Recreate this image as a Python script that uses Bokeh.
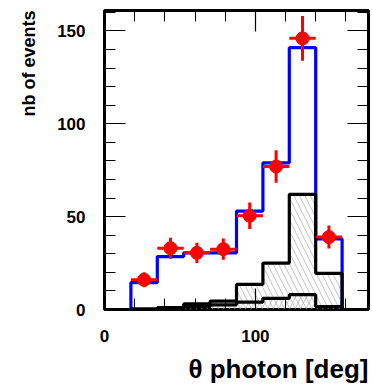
import numpy as np
from bokeh.plotting import figure
from bokeh.models import Range1d, LinearAxis, SingleIntervalTicker, CustomJSTickFormatter, Title
from bokeh.embed import file_html
from bokeh.resources import INLINE

# ---- data ----
bin_edges = [0, 17.5, 35, 52.5, 70, 87.5, 105, 122.5, 140, 157.5, 175]
mc_total = [0, 14.5, 28.5, 30.5, 30.5, 53, 79, 141, 38, 0]
bkg_main = [0, 0.3, 1, 3, 4.5, 13.5, 25, 62, 19.5, 0]
bkg_small = [0, 0, 0.5, 1.5, 2.5, 4, 6, 8, 1.5, 0]
data_counts = [0, 16, 33, 30.5, 32.5, 50.5, 77, 146, 39, 0]
data_errors = [0, 4.0, 5.7, 5.5, 5.7, 7.1, 8.8, 12.1, 6.2, 0]

x_ticks_interval = 100
y_ticks_interval = 50
x_title = "θ photon [deg]"
y_title = "nb of events"

FONT = "Liberation Sans"


def step_path(edges, vals):
    nz = [i for i, v in enumerate(vals) if v > 0]
    i0, i1 = nz[0], nz[-1]
    xs, ys = [edges[i0]], [0]
    for i in range(i0, i1 + 1):
        xs += [edges[i], edges[i + 1]]
        ys += [vals[i], vals[i]]
    xs.append(edges[i1 + 1])
    ys.append(0)
    return xs, ys


p = figure(width=372, height=390, x_range=Range1d(0, 175), y_range=Range1d(0, 161),
           output_backend="svg", toolbar_location=None,
           min_border_left=104, min_border_right=4, min_border_top=10, min_border_bottom=81)
p.xgrid.visible = False
p.ygrid.visible = False
p.outline_line_color = "black"
p.outline_line_width = 3
p.background_fill_color = "white"
p.border_fill_color = "white"

# blue total histogram
bx, by = step_path(bin_edges, mc_total)
p.line(bx, by, line_color="#0000ff", line_width=3.2)

# main background (hatched)
mx, my = step_path(bin_edges, bkg_main)
p.patch(mx, my, fill_alpha=0, line_color=None, hatch_pattern="\\", hatch_color="#999999",
        hatch_weight=0.6, hatch_scale=11)
# small background (hatched other way)
sx, sy = step_path(bin_edges, bkg_small)
p.patch(sx, sy, fill_alpha=0, line_color=None, hatch_pattern="/", hatch_color="#999999",
        hatch_weight=0.6, hatch_scale=11)
p.line(mx, my, line_color="black", line_width=3.2)
p.line(sx, sy, line_color="black", line_width=3.2)

# data points with errors
edges = np.array(bin_edges)
centers = (edges[:-1] + edges[1:]) / 2
half = (edges[1:] - edges[:-1]) / 2
cnt = np.array(data_counts)
err = np.array(data_errors)
m = cnt > 0
p.segment(centers[m], cnt[m] - err[m], centers[m], cnt[m] + err[m], line_color="red", line_width=3)
p.segment(centers[m] - half[m], cnt[m], centers[m] + half[m], cnt[m], line_color="red", line_width=3)
p.scatter(centers[m], cnt[m], size=13, color="red", line_color="red")

# axes
xt = SingleIntervalTicker(interval=x_ticks_interval, num_minor_ticks=5)
yt = SingleIntervalTicker(interval=y_ticks_interval, num_minor_ticks=5)

for ax in [p.xaxis[0], p.yaxis[0]]:
    ax.axis_line_color = None
    ax.major_tick_in = 21
    ax.major_tick_out = 0
    ax.minor_tick_in = 11
    ax.minor_tick_out = 0
    ax.major_tick_line_width = 1.2
    ax.minor_tick_line_width = 1
    ax.major_label_text_font = FONT
    ax.major_label_text_font_style = "bold"
    ax.major_label_text_font_size = "17px"
    ax.major_label_text_color = "black"

p.xaxis[0].ticker = xt
p.yaxis[0].ticker = yt
p.xaxis[0].major_label_standoff = 20
p.yaxis[0].major_label_standoff = 19

for loc, tk in [("right", yt), ("above", xt)]:
    ax = LinearAxis(ticker=tk, formatter=CustomJSTickFormatter(code="return ''"))
    ax.axis_line_color = None
    ax.major_tick_in = 21
    ax.major_tick_out = 0
    ax.minor_tick_in = 11
    ax.minor_tick_out = 0
    ax.major_tick_line_width = 1.2
    ax.major_label_standoff = 0
    ax.axis_label_standoff = 0
    p.add_layout(ax, loc)

# axis titles (right/top aligned as in the reference)
p.add_layout(Title(text=x_title, align="right", text_font=FONT, text_font_style="bold",
                   text_font_size="26px", text_color="black", standoff=14, offset=0), "below")
p.add_layout(Title(text=y_title, align="right", text_font=FONT, text_font_style="bold",
                   text_font_size="18px", text_color="black", standoff=27, offset=0,
                   vertical_align="top"), "left")

open("out.html", "w").write(file_html(p, INLINE))
